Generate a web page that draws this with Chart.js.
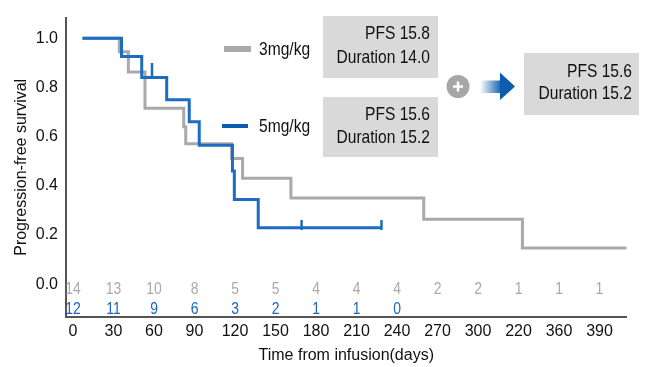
<!DOCTYPE html>
<html>
<head>
<meta charset="utf-8">
<script src="https://cdn.jsdelivr.net/npm/chart.js@4"></script>
<style>
  body { margin: 0; background: #fff; }
  canvas { display: block; }
</style>
</head>
<body>
<canvas id="kmChart" width="649" height="367"></canvas>
<script>
// --- Dados ---
const xTickDays = [0, 30, 60, 90, 120, 150, 180, 210, 240, 270, 300, 330, 360, 390];
const xTickLabels = ['0', '30', '60', '90', '120', '150', '180', '210', '240', '270', '300', '220', '360', '390'];
const yTickValues = [0, 0.2, 0.4, 0.6, 0.8, 1.0];
const yTickLabels = ['0.0', '0.2', '0.4', '0.6', '0.8', '1.0'];

// 3mg/kg (cinza)
const grayDays = [7, 34.3, 41, 53.3, 82, 83.5, 117.5, 125.6, 161.4, 259.8, 332.9, 410];
const graySurv = [1.0, 0.945, 0.863, 0.716, 0.64, 0.571, 0.511, 0.431, 0.351, 0.264, 0.147, 0.147];

// 5mg/kg (azul)
const blueDays = [7, 35.9, 50.9, 69.4, 86.1, 93.5, 118.1, 119.5, 137.2, 228.5];
const blueSurv = [1.0, 0.926, 0.841, 0.75, 0.661, 0.565, 0.46, 0.345, 0.23, 0.23];

// marcas de censura (azul)
const censorDays = [58.5, 169.3, 228.5];
const censorSurv = [0.871, 0.241, 0.241];

// números em risco
const grayAtRisk = [14, 13, 10, 8, 5, 5, 4, 4, 4, 2, 2, 1, 1, 1];
const blueAtRisk = [12, 11, 9, 6, 3, 2, 1, 1, 0];

// caixas de texto
const boxLines = [
    ['PFS 15.8', 'Duration 14.0'],
    ['PFS 15.6', 'Duration 15.2'],
    ['PFS 15.6', 'Duration 15.2']
];
const seriesNames = ['3mg/kg', '5mg/kg'];

window.onload = function () {
    const ctx = document.getElementById('kmChart').getContext('2d');

    const GRAY = '#a9a9a9';
    const BLUE = '#1c6dc1';
    const FONT = "'Liberation Sans', Arial, sans-serif";
    const SQUEEZE = 0.82; // imita a fonte estreita do original

    // texto comprimido na horizontal
    function narrowText(c, text, x, y) {
        c.save();
        c.translate(x, y);
        c.scale(SQUEEZE, 1);
        c.fillText(text, 0, 0);
        c.restore();
    }

    // --- Plugin: números em risco, legenda e caixas ---
    const extrasPlugin = {
        id: 'extras',
        afterDatasetsDraw(chart) {
            const c = chart.ctx;
            const xs = chart.scales.x;
            const ys = chart.scales.y;
            c.save();

            // números em risco
            c.font = '17px ' + FONT;
            c.textAlign = 'center';
            c.textBaseline = 'middle';
            c.fillStyle = '#aaaaaa';
            grayAtRisk.forEach((n, i) => {
                narrowText(c, String(n), xs.getPixelForValue(xTickDays[i]), ys.getPixelForValue(-0.022));
            });
            c.fillStyle = '#1a66bd';
            blueAtRisk.forEach((n, i) => {
                narrowText(c, String(n), xs.getPixelForValue(xTickDays[i]), ys.getPixelForValue(-0.1));
            });

            // legenda
            c.lineCap = 'butt';
            c.strokeStyle = GRAY;
            c.lineWidth = 6;
            c.beginPath(); c.moveTo(224, 49); c.lineTo(251, 49); c.stroke();
            c.strokeStyle = '#0b5cad';
            c.lineWidth = 4;
            c.beginPath(); c.moveTo(222, 126); c.lineTo(248, 126); c.stroke();
            c.fillStyle = '#111';
            c.font = '19px ' + FONT;
            c.textAlign = 'left';
            narrowText(c, seriesNames[0], 259, 50);
            narrowText(c, seriesNames[1], 259, 127);

            // caixas
            const boxes = [
                { x: 323, y: 16, w: 115, h: 62, right: 430, l1: 34, l2: 58 },
                { x: 323, y: 97, w: 115, h: 60, right: 430, l1: 115, l2: 138 },
                { x: 524, y: 53, w: 115, h: 62, right: 632, l1: 72, l2: 94 }
            ];
            boxes.forEach((b, i) => {
                c.fillStyle = '#d9d9d9';
                c.fillRect(b.x, b.y, b.w, b.h);
                c.fillStyle = '#111';
                c.font = '19px ' + FONT;
                c.textAlign = 'right';
                narrowText(c, boxLines[i][0], b.right, b.l1);
                narrowText(c, boxLines[i][1], b.right, b.l2);
            });

            // círculo com "+"
            c.fillStyle = '#a6a6a6';
            c.beginPath(); c.arc(458, 86.5, 11.5, 0, Math.PI * 2); c.fill();
            c.strokeStyle = '#fff';
            c.lineWidth = 2.5;
            c.beginPath();
            c.moveTo(453, 86.5); c.lineTo(463, 86.5);
            c.moveTo(458, 81.5); c.lineTo(458, 91.5);
            c.stroke();

            // seta com degradê
            const grad = c.createLinearGradient(480, 0, 502, 0);
            grad.addColorStop(0, 'rgba(11, 92, 173, 0)');
            grad.addColorStop(1, 'rgba(11, 92, 173, 1)');
            c.fillStyle = grad;
            c.fillRect(480, 80.5, 21, 12.5);
            c.fillStyle = '#0b5cad';
            c.beginPath();
            c.moveTo(500, 72.5); c.lineTo(515, 86.5); c.lineTo(500, 100); c.closePath();
            c.fill();

            c.restore();
        }
    };

    const chart = new Chart(ctx, {
        type: 'line',
        data: {
            datasets: [
                {
                    label: 'censored',
                    type: 'scatter',
                    data: censorDays.map((d, i) => ({ x: d, y: censorSurv[i] })),
                    pointStyle: 'line',
                    rotation: 90,
                    pointRadius: [7, 5, 5],
                    borderColor: BLUE,
                    backgroundColor: BLUE,
                    borderWidth: 2.5,
                    order: 0,
                    clip: false
                },
                {
                    label: seriesNames[1],
                    data: blueDays.map((d, i) => ({ x: d, y: blueSurv[i] })),
                    borderColor: BLUE,
                    borderWidth: 3,
                    stepped: true,
                    pointRadius: 0,
                    fill: false,
                    order: 1,
                    clip: false
                },
                {
                    label: seriesNames[0],
                    data: grayDays.map((d, i) => ({ x: d, y: graySurv[i] })),
                    borderColor: GRAY,
                    borderWidth: 3,
                    stepped: true,
                    pointRadius: 0,
                    fill: false,
                    order: 2,
                    clip: false
                }
            ]
        },
        options: {
            responsive: false,
            devicePixelRatio: 1,
            animation: false,
            layout: { padding: { top: 14, right: 22.5, left: 0, bottom: 0 } },
            plugins: {
                legend: { display: false },
                tooltip: { enabled: false }
            },
            scales: {
                x: {
                    type: 'linear',
                    min: -5.2,
                    max: 410,
                    grid: { display: false, drawTicks: false },
                    border: { display: true, color: '#555', width: 2 },
                    afterBuildTicks: (scale) => {
                        scale.ticks = xTickDays.map(v => ({ value: v }));
                    },
                    afterFit: (scale) => { scale.height = 50; },
                    ticks: {
                        autoSkip: false,
                        maxRotation: 0,
                        padding: 5,
                        color: '#111',
                        font: { family: FONT, size: 16 },
                        callback: (value, index) => xTickLabels[index]
                    },
                    title: {
                        display: true,
                        text: 'Time from infusion(days)',
                        color: '#111',
                        font: { family: FONT, size: 16 },
                        padding: { top: 0, bottom: 2 }
                    }
                },
                y: {
                    type: 'linear',
                    min: -0.133,
                    max: 1.084,
                    grid: { display: false, drawTicks: false },
                    border: { display: true, color: '#555', width: 2 },
                    afterBuildTicks: (scale) => {
                        scale.ticks = yTickValues.map(v => ({ value: v }));
                    },
                    afterFit: (scale) => { scale.width = 66; },
                    ticks: {
                        padding: 8,
                        color: '#111',
                        font: { family: FONT, size: 16 },
                        callback: (value, index) => yTickLabels[index]
                    },
                    title: {
                        display: true,
                        text: 'Progression-free survival',
                        color: '#111',
                        font: { family: FONT, size: 16 },
                        padding: { top: 12, bottom: 0 }
                    }
                }
            }
        },
        plugins: [extrasPlugin]
    });
};
</script>
</body>
</html>
